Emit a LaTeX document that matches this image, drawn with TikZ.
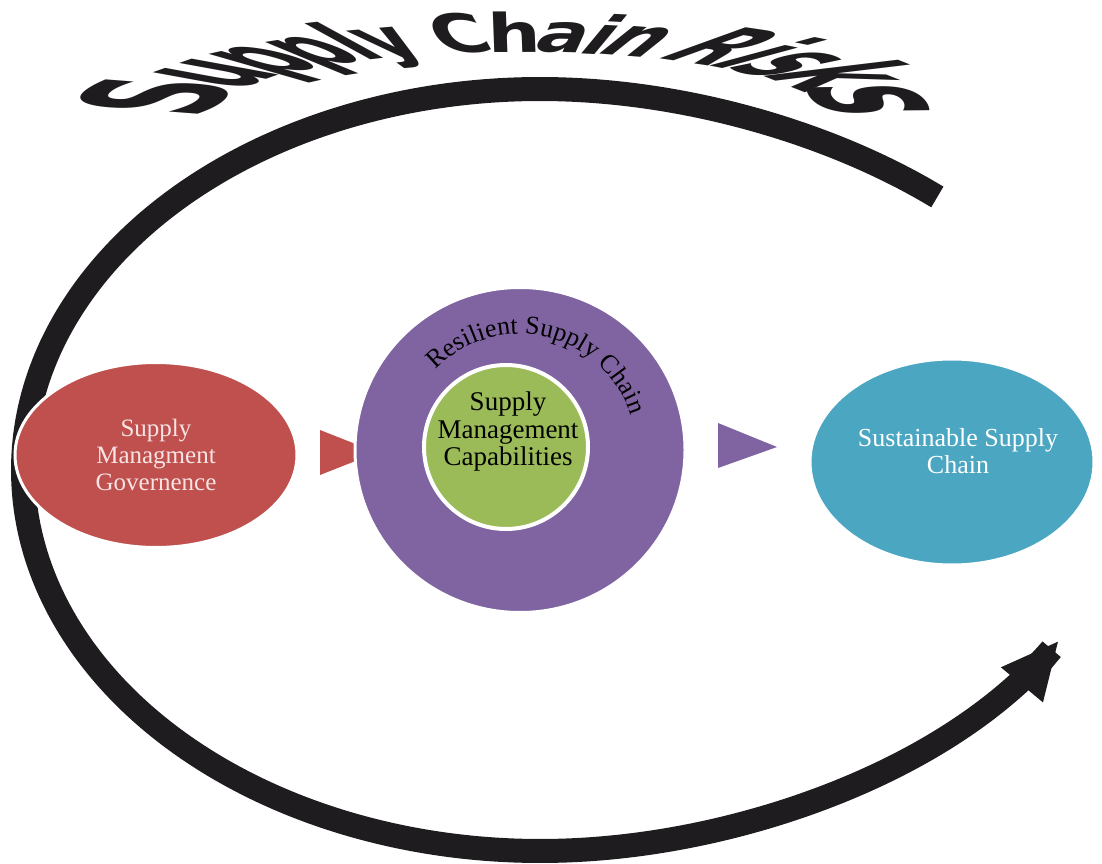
\documentclass[tikz,border=0pt]{standalone}
\usepackage{fontspec}
\usetikzlibrary{shapes.geometric,arrows.meta,decorations.text}
\newfontfamily\srffnt{Liberation Serif}
\newfontfamily\ttlfnt{DejaVu Sans}
\definecolor{cred}{RGB}{192,80,77}
\definecolor{cpurple}{RGB}{128,100,162}
\definecolor{cgreen}{RGB}{155,187,89}
\definecolor{cteal}{RGB}{75,166,194}
\definecolor{cink}{RGB}{30,28,30}
\definecolor{cpink}{RGB}{246,228,228}
\begin{document}
\begin{tikzpicture}[x=1pt,y=1pt,
  bubble/.style={ellipse, draw=white, line width=3pt, inner sep=0pt},
  lbl/.style={align=center, inner sep=0pt, font=\srffnt\fontsize{25}{27}\selectfont},
  letter/.style={transform shape, anchor=base, inner sep=0pt, text=cink, font=\ttlfnt\bfseries\fontsize{10}{12}\selectfont},
  riskarc/.style={draw=cink, line width=24pt, -{Triangle[length=58pt,width=50pt]}}]
\useasboundingbox (0,0) rectangle (1102,863);

% big risk arc (ellipse bulging slightly on the right)
\draw[riskarc] plot[domain=43:336, samples=150, smooth, variable=\a]
  ({540+517*(1+0.13*pow(max(cos(\a),0),3))*cos(\a)},
   {393+381*(1+0.13*pow(max(cos(\a),0),3))*sin(\a)});

% governance
\node[bubble, fill=cred, minimum width=282pt, minimum height=185pt,
      lbl, text=cpink] (gov) at (156,408) {Supply\\Managment\\Governence};

% red pointer
\coordinate (rt1) at (320,433);
\coordinate (rt2) at (320,388);
\coordinate (rt3) at (377,410.5);
\fill[cred] (rt1) -- (rt2) -- (rt3) -- cycle;

% resilient supply chain
\node[bubble, fill=cpurple, minimum width=330pt, minimum height=325pt] (res) at (520,413) {};
\node[circle, draw=white, line width=4pt, fill=cgreen, minimum size=164pt, inner sep=0pt] (cap) at (506,416) {};
\node[lbl, text=black, font=\srffnt\fontsize{27}{27.5}\selectfont] (captext) at (508,431) {Supply\\Management\\Capabilities};
\path[decorate, decoration={text along path, text align=center,
      text={|\srffnt\fontsize{26}{26}\selectfont|Resilient Supply Chain}}]
  (res.center) ++(157:116) arc[start angle=157, end angle=-3, radius=116];

% purple pointer
\coordinate (pt1) at (718,440);
\coordinate (pt2) at (718,395);
\coordinate (pt3) at (777,416);
\fill[cpurple] (pt1) -- (pt2) -- (pt3) -- cycle;

% sustainable
\node[bubble, fill=cteal, minimum width=284pt, minimum height=206pt] (sus) at (952,401) {};
\node[lbl, text=white, font=\srffnt\fontsize{26}{27}\selectfont] (sustext) at (958,412) {Sustainable Supply\\Chain};

% title letters warped on an arch
\foreach \ch/\tt [count=\i] in {S/164.9,u/147.1,p/134.6,p/124.3,l/117.3,y/111.1,C/98.9,h/90.6,a/82.7,i/76.8,n/70.6,R/56.8,i/48.9,s/41.6,k/29.9,s/12.9}{
  \pgfmathsetmacro\cT{cos(\tt)}
  \pgfmathsetmacro\sT{sin(\tt)}
  \pgfmathsetmacro\tA{3.77*\sT}
  \pgfmathsetmacro\tB{-0.855*\cT}
  \pgfmathsetmacro\tN{sqrt(\tA*\tA+\tB*\tB)}
  \pgfmathsetmacro\cmA{7.484*\tA/\tN}
  \pgfmathsetmacro\cmB{7.484*\tB/\tN}
  \pgfmathsetmacro\cmC{18.9*\cT}
  \pgfmathsetmacro\cmD{5.34*\sT}
  \pgfmathsetmacro\bX{518+308*\cT}
  \pgfmathsetmacro\bY{745+66*\sT}
  \ifnum\i>11 \def\fsh{\itshape}\else\def\fsh{}\fi
  \begin{scope}
    \pgftransformcm{\cmA}{\cmB}{\cmC}{\cmD}{\pgfpoint{\bX pt}{\bY pt}}
    \node[letter] (t\i) at (0,0) {\fsh\ch};
  \end{scope}
}
\end{tikzpicture}
\end{document}
